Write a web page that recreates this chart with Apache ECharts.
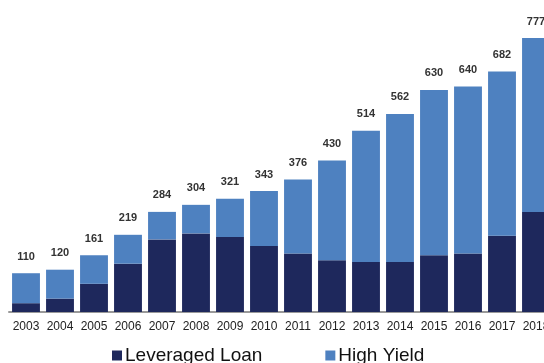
<!DOCTYPE html>
<html>
<head>
<meta charset="utf-8">
<script src="https://cdn.jsdelivr.net/npm/echarts@6/dist/echarts.min.js"></script>
<style>
  html, body { margin: 0; padding: 0; background: #fff; overflow: hidden; }
  #chart { width: 553px; height: 363px; }
</style>
</head>
<body>
<div id="chart"></div>
<script>
var years = ['2003', '2004', '2005', '2006', '2007', '2008', '2009', '2010',
             '2011', '2012', '2013', '2014', '2015', '2016', '2017', '2018'];
var leveragedLoan = [25, 38, 80, 137, 206, 223, 213, 187, 166, 147, 142, 142, 161, 166, 216, 284];
var highYield = [85, 82, 81, 82, 78, 81, 108, 156, 210, 283, 372, 420, 469, 474, 466, 493];
var totals = [110, 120, 161, 219, 284, 304, 321, 343, 376, 430, 514, 562, 630, 640, 682, 777];

// chart is a bit wider than the window so the 2018 bar gets cut like in the source
var myChart = echarts.init(document.getElementById('chart'));

var option = {
    animation: false,
    color: ['#1e285c', '#4e81c0'],
    textStyle: { fontFamily: 'Liberation Sans, Arial, sans-serif' },
    legend: {
        data: ['Leveraged Loan', 'High Yield'],
        left: 107,
        top: 341,
        itemWidth: 10,
        itemHeight: 10,
        itemGap: 63,
        icon: 'rect',
        textStyle: { fontSize: 19, color: '#111', padding: [0, 0, 0, -2] }
    },
    grid: {
        left: 9,
        right: 0,
        top: 30,
        bottom: 51,
        containLabel: false
    },
    xAxis: {
        type: 'category',
        data: years,
        axisTick: { show: false },
        axisLine: { lineStyle: { color: '#999', width: 2 } },
        axisLabel: { color: '#222', fontSize: 12, margin: 9, interval: 0 }
    },
    yAxis: {
        type: 'value',
        min: 0,
        max: 800,
        show: false,
        splitLine: { show: false }
    },
    series: [
        {
            name: 'Leveraged Loan',
            type: 'bar',
            stack: 'total',
            barWidth: '82%',
            data: leveragedLoan
        },
        {
            name: 'High Yield',
            type: 'bar',
            stack: 'total',
            barWidth: '82%',
            data: highYield,
            label: {
                show: true,
                position: 'top',
                distance: 11,
                fontSize: 11,
                fontWeight: 'bold',
                color: '#333',
                formatter: function (p) {
                    return totals[p.dataIndex];
                }
            }
        }
    ]
};

myChart.setOption(option);

window.addEventListener("resize", function () {
    myChart.resize();
});
</script>
</body>
</html>
